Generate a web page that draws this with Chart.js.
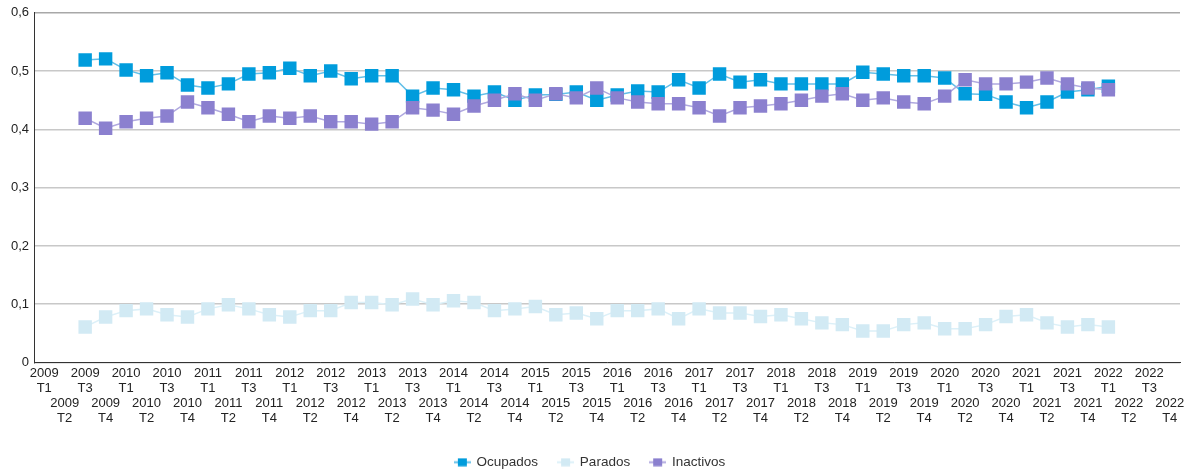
<!DOCTYPE html>
<html>
<head>
<meta charset="utf-8">
<script src="https://cdn.jsdelivr.net/npm/chart.js@4/dist/chart.umd.min.js"></script>
<style>
  html, body { margin: 0; padding: 0; background: #fff; }
  #wrap { width: 1194px; height: 469px; }
</style>
</head>
<body>
<div id="wrap"><canvas id="chart"></canvas></div>
<script>
// quarters shown on the x axis
const quarterLabels = [];
for (let y = 2009; y <= 2022; y++) {
  ["T1", "T2", "T3", "T4"].forEach(q => quarterLabels.push(y + " " + q));
}

// series start at 2009 T3
const firstIndex = 2;

const ocupados = [
  0.519, 0.521,
  0.502, 0.492, 0.497, 0.476,
  0.471, 0.478, 0.495, 0.497,
  0.505, 0.492, 0.500, 0.487,
  0.492, 0.492, 0.457, 0.471,
  0.468, 0.457, 0.464, 0.450,
  0.459, 0.460, 0.464, 0.450,
  0.459, 0.466, 0.464, 0.485,
  0.471, 0.495, 0.481, 0.485,
  0.478, 0.478, 0.478, 0.478,
  0.498, 0.495, 0.492, 0.492,
  0.488, 0.461, 0.460, 0.447,
  0.437, 0.447, 0.464, 0.468,
  0.474
];

const parados = [
  0.061, 0.078,
  0.089, 0.092, 0.082, 0.078,
  0.092, 0.099, 0.092, 0.082,
  0.078, 0.089, 0.089, 0.103,
  0.103, 0.099, 0.109, 0.099,
  0.106, 0.103, 0.089, 0.092,
  0.096, 0.082, 0.085, 0.075,
  0.089, 0.089, 0.092, 0.075,
  0.092, 0.085, 0.085, 0.079,
  0.082, 0.075, 0.068, 0.065,
  0.054, 0.054, 0.065, 0.068,
  0.058, 0.058, 0.065, 0.079,
  0.082, 0.068, 0.061, 0.065,
  0.061
];

const inactivos = [
  0.419, 0.402,
  0.413, 0.419, 0.423, 0.447,
  0.437, 0.426, 0.413, 0.423,
  0.419, 0.423, 0.413, 0.413,
  0.409, 0.413, 0.437, 0.433,
  0.426, 0.440, 0.450, 0.461,
  0.450, 0.461, 0.454, 0.471,
  0.454, 0.447, 0.444, 0.444,
  0.437, 0.423, 0.437, 0.440,
  0.444, 0.450, 0.457, 0.461,
  0.450, 0.454, 0.447, 0.444,
  0.457, 0.485, 0.478, 0.478,
  0.481, 0.488, 0.478, 0.471,
  0.468
];

const yTicks = [0, 0.1, 0.2, 0.3, 0.4, 0.5, 0.6];

function pad(values) {
  return new Array(firstIndex).fill(null).concat(values);
}

// small legend icon: a line with a square in the middle
function legendIcon(lineColor, boxColor) {
  const c = document.createElement("canvas");
  c.width = 17; c.height = 9;
  const g = c.getContext("2d");
  g.strokeStyle = lineColor;
  g.lineWidth = 2;
  g.beginPath(); g.moveTo(0, 4.5); g.lineTo(17, 4.5); g.stroke();
  g.fillStyle = boxColor;
  g.fillRect(4, 0.5, 9, 8);
  return c;
}

const series = [
  { label: "Ocupados", data: ocupados, mark: "#009cdc", line: "#62bfe8", order: 1 },
  { label: "Parados", data: parados, mark: "#d2eaf4", line: "#dcf0f8", order: 2 },
  { label: "Inactivos", data: inactivos, mark: "#8b80cf", line: "#b0a9df", order: 0 }
];

const fontFamily = "'Liberation Sans', Arial, sans-serif";

new Chart(document.getElementById("chart"), {
  type: "line",
  data: {
    labels: quarterLabels,
    datasets: series.map(s => ({
      label: s.label,
      data: pad(s.data),
      order: s.order,
      borderColor: s.line,
      borderWidth: 1.5,
      backgroundColor: s.mark,
      pointStyle: "rect",
      pointRadius: 9.5,
      pointHoverRadius: 9.5,
      pointBackgroundColor: s.mark,
      pointBorderWidth: 0,
      tension: 0
    }))
  },
  options: {
    responsive: true,
    maintainAspectRatio: false,
    animation: false,
    layout: { padding: { top: 9, right: 14, left: 0, bottom: -10 } },
    scales: {
      x: {
        offset: true,
        grid: { display: false, drawTicks: false },
        border: { display: true, color: "#333", width: 1 },
        ticks: {
          autoSkip: false,
          maxRotation: 0,
          minRotation: 0,
          padding: 3,
          color: "#222",
          font: { family: fontFamily, size: 13, lineHeight: "15px" },
          callback: function (value, index) {
            const parts = this.getLabelForValue(value).split(" ");
            // alternate rows: odd quarters drop two lines lower
            return index % 2 === 0 ? parts : ["", ""].concat(parts);
          }
        },
        afterFit: s => { s.height = 73; }
      },
      y: {
        min: 0,
        max: 0.6,
        afterBuildTicks: s => { s.ticks = yTicks.map(v => ({ value: v })); },
        grid: {
          drawTicks: false,
          color: ctx => (ctx.tick && ctx.tick.value === 0.6 ? "#a8a8a8" : "#c8c8c8"),
          lineWidth: 1.5
        },
        border: { display: true, color: "#333", width: 1 },
        ticks: {
          padding: 5,
          color: "#222",
          font: { family: fontFamily, size: 13 },
          callback: v => String(Math.round(v * 10) / 10).replace(".", ",")
        },
        afterFit: s => { s.width = 34; }
      }
    },
    plugins: {
      tooltip: { enabled: false },
      legend: {
        position: "bottom",
        labels: {
          color: "#333",
          font: { family: fontFamily, size: 13.5 },
          usePointStyle: true,
          pointStyleWidth: 15,
          boxHeight: 9,
          padding: 20,
          sort: (a, b) => a.datasetIndex - b.datasetIndex,
          generateLabels: chart => {
            const items = Chart.defaults.plugins.legend.labels.generateLabels(chart);
            items.forEach(it => {
              const s = series[it.datasetIndex];
              it.pointStyle = legendIcon(s.line, s.mark);
            });
            return items;
          }
        }
      }
    }
  }
});
</script>
</body>
</html>
